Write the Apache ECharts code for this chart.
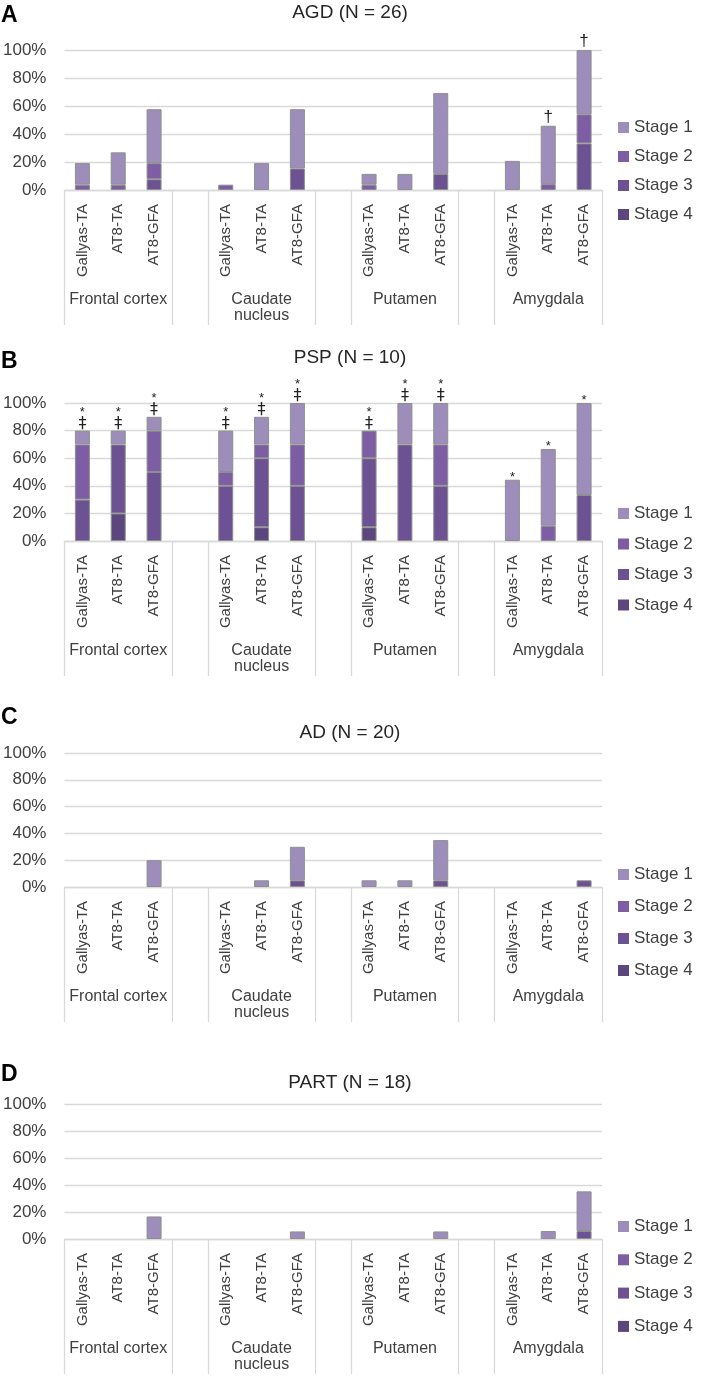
<!DOCTYPE html>
<html><head><meta charset="utf-8">
<script src="https://cdn.jsdelivr.net/npm/echarts@6/dist/echarts.min.js"></script>
<style>html,body{margin:0;padding:0;background:#fff}#c{width:709px;height:1376px}</style>
</head><body><div id="c"></div>
<script>
// ---------- data ----------
const methods = ['Gallyas-TA', 'AT8-TA', 'AT8-GFA'];
const regions = ['Frontal cortex', 'Caudate\nnucleus', 'Putamen', 'Amygdala'];
const yTicks = [0, 20, 40, 60, 80, 100];
const stageNames = ['Stage 1', 'Stage 2', 'Stage 3', 'Stage 4'];
const panelTitles = ['AGD (N = 26)', 'PSP (N = 10)', 'AD (N = 20)', 'PART (N = 18)'];
const panelLetters = ['A', 'B', 'C', 'D'];

// order of 12 values: Frontal(G,A,F), Caudate(G,A,F), Putamen(G,A,F), Amygdala(G,A,F)
const agdStage1 = [15.4, 23.1, 38.5, 0, 19.2, 42.3, 7.7, 11.5, 57.7, 20.8, 41.7, 45.8];
const agdStage2 = [3.8, 3.8, 11.5, 3.8, 0, 0, 3.8, 0, 0, 0, 4.2, 20.8];
const agdStage3 = [0, 0, 7.7, 0, 0, 15.4, 0, 0, 11.5, 0, 0, 33.3];
const agdStage4 = [0, 0, 0, 0, 0, 0, 0, 0, 0, 0, 0, 0];
const agdMarks = ['', '', '', '', '', '', '', '', '', '', '†', '†'];

const pspStage1 = [10, 10, 10, 30, 20, 30, 0, 30, 30, 44.4, 55.6, 66.7];
const pspStage2 = [40, 0, 30, 10, 10, 30, 20, 0, 30, 0, 11.1, 0];
const pspStage3 = [30, 50, 50, 40, 50, 40, 50, 70, 40, 0, 0, 33.3];
const pspStage4 = [0, 20, 0, 0, 10, 0, 10, 0, 0, 0, 0, 0];
const pspMarks = ['*‡', '*‡', '*‡', '*‡', '*‡', '*‡', '*‡', '*‡', '*‡', '*', '*', '*'];

const adStage1 = [0, 0, 20, 0, 5, 25, 5, 5, 30, 0, 0, 0];
const adStage2 = [0, 0, 0, 0, 0, 0, 0, 0, 0, 0, 0, 0];
const adStage3 = [0, 0, 0, 0, 0, 5, 0, 0, 5, 0, 0, 5];
const adStage4 = [0, 0, 0, 0, 0, 0, 0, 0, 0, 0, 0, 0];
const adMarks = ['', '', '', '', '', '', '', '', '', '', '', ''];

const partStage1 = [0, 0, 16.7, 0, 0, 5.6, 0, 0, 5.6, 0, 5.9, 29.4];
const partStage2 = [0, 0, 0, 0, 0, 0, 0, 0, 0, 0, 0, 0];
const partStage3 = [0, 0, 0, 0, 0, 0, 0, 0, 0, 0, 0, 5.9];
const partStage4 = [0, 0, 0, 0, 0, 0, 0, 0, 0, 0, 0, 0];
const partMarks = ['', '', '', '', '', '', '', '', '', '', '', ''];

// ---------- styles / layout ----------
const stageColors = ['#9d8dba', '#7d5ea4', '#6c5292', '#5c467e'];
const FONT = 'Liberation Sans';
const TXT = '#404040';
const GRIDC = '#d9d9d9';
const panels = [
  { s: [agdStage1, agdStage2, agdStage3, agdStage4], marks: agdMarks, top: 50, h: 140, titleTop: 3, letterTop: 4, legTop: 119, legGap: 12 },
  { s: [pspStage1, pspStage2, pspStage3, pspStage4], marks: pspMarks, top: 403, h: 138, titleTop: 348, letterTop: 350, legTop: 505, legGap: 13.5 },
  { s: [adStage1, adStage2, adStage3, adStage4], marks: adMarks, top: 753, h: 134, titleTop: 723, letterTop: 706, legTop: 866, legGap: 15 },
  { s: [partStage1, partStage2, partStage3, partStage4], marks: partMarks, top: 1104, h: 135, titleTop: 1073, letterTop: 1063, legTop: 1218, legGap: 16.3 }
];

// 15 slots: 3 bars per region + an empty slot between regions
const slotCats = [];
regions.forEach((r, ri) => { if (ri > 0) slotCats.push(''); methods.forEach(m => slotCats.push(m)); });
function toSlots(arr, mapFn) {
  const out = [];
  arr.forEach((v, i) => { if (i > 0 && i % 3 === 0) out.push(null); out.push(mapFn(v)); });
  return out;
}
const boundaries = [0, 3, 4, 7, 8, 11, 12];

const grid = [], xAxis = [], yAxis = [], series = [], legend = [], title = [];
panels.forEach((p, pi) => {
  grid.push({ left: 63, width: 539, top: p.top, height: p.h });
  xAxis.push({
    type: 'category', gridIndex: pi, data: slotCats, position: 'bottom',
    axisLine: { show: true, lineStyle: { color: GRIDC, width: 1.3 } },
    axisTick: { show: true, length: 135, lineStyle: { color: GRIDC, width: 1.3 },
      interval: (idx) => boundaries.includes(idx) },
    axisLabel: { interval: 0, rotate: 90, fontSize: 15, color: TXT, fontFamily: FONT, margin: 14 },
    splitLine: { show: false }
  });
  xAxis.push({
    type: 'category', gridIndex: pi, data: slotCats, position: 'bottom',
    axisLine: { show: false }, axisTick: { show: false }, splitLine: { show: false },
    axisLabel: { interval: (idx) => idx % 4 === 1, formatter: (v, idx) => regions[Math.floor(idx / 4)],
      fontSize: 16, lineHeight: 16, color: TXT, fontFamily: FONT, margin: 102, align: 'center' }
  });
  yAxis.push({
    type: 'value', gridIndex: pi, min: yTicks[0], max: yTicks[yTicks.length - 1], interval: 20,
    axisLine: { show: false }, axisTick: { show: false },
    axisLabel: { formatter: '{value}%', fontSize: 17, color: TXT, fontFamily: FONT, margin: 18 },
    splitLine: { lineStyle: { color: GRIDC, width: 1.3 } }
  });
  for (let k = 3; k >= 0; k--) {
    series.push({
      type: 'bar', name: stageNames[k], xAxisIndex: pi * 2, yAxisIndex: pi, stack: 'p' + pi,
      barWidth: 15, data: toSlots(p.s[k], v => (v === 0 ? null : v)),
      itemStyle: { color: stageColors[k], borderColor: '#8e8e8e', borderWidth: 1 },
      emphasis: { disabled: true }
    });
  }
  const markText = toSlots(p.marks, v => v);
  series.push({
    type: 'bar', name: 'marks' + pi, xAxisIndex: pi * 2, yAxisIndex: pi, stack: 'p' + pi,
    barWidth: 15, data: toSlots(p.marks, v => (v ? 0 : null)),
    itemStyle: { color: 'rgba(0,0,0,0)', borderWidth: 0 },
    emphasis: { disabled: true }, silent: true,
    label: {
      show: true, position: 'top', distance: 0,
      formatter: (prm) => {
        const t = markText[prm.dataIndex] || '';
        if (t === '*‡') return '{s|*}\n{d|‡}';
        if (t === '*') return '{s1|*}';
        if (t === '†') return '{g|†}';
        return '';
      },
      rich: {
        s: { fontSize: 13, lineHeight: 9, color: '#222', fontFamily: FONT },
        s1: { fontSize: 13, lineHeight: 5, color: '#222', fontFamily: FONT },
        d: { fontSize: 16, lineHeight: 14, color: '#222', fontFamily: 'DejaVu Sans' },
        g: { fontSize: 17, lineHeight: 17, color: '#222', fontFamily: FONT }
      }
    }
  });
  legend.push({
    data: stageNames, orient: 'vertical', left: 618, top: p.legTop, itemGap: p.legGap,
    itemWidth: 11, itemHeight: 11, icon: 'rect', selectedMode: false, padding: 0,
    itemStyle: { borderWidth: 0 },
    textStyle: { fontSize: 17, lineHeight: 17, color: TXT, fontFamily: FONT }
  });
  title.push({
    text: panelTitles[pi], left: 350, textAlign: 'center', top: p.titleTop, padding: 0,
    textStyle: { fontSize: 19, fontWeight: 'normal', color: '#262626', fontFamily: FONT }
  });
  title.push({
    text: panelLetters[pi], left: 1, top: p.letterTop, padding: 0,
    textStyle: { fontSize: 23, fontWeight: 'bold', color: '#000', fontFamily: FONT }
  });
});

const chart = echarts.init(document.getElementById('c'));
chart.setOption({ animation: false, backgroundColor: '#fff', title, legend, grid, xAxis, yAxis, series });
</script></body></html>
